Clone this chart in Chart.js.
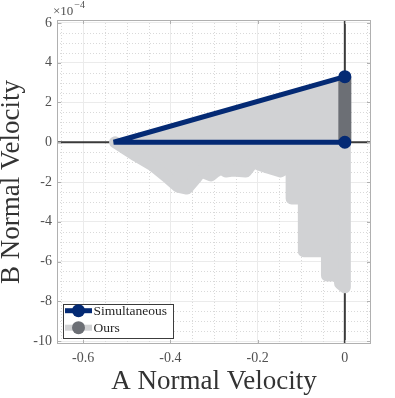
<!DOCTYPE html>
<html>
<head>
<meta charset="utf-8">
<script src="https://cdn.jsdelivr.net/npm/chart.js@4.4.1/dist/chart.umd.min.js"></script>
<style>
  html, body { margin: 0; padding: 0; background: #fff; }
  canvas { display: block; }
</style>
</head>
<body>
<canvas id="chartCanvas" width="395" height="398"></canvas>
<script>
// values on the y axis are in units of 1e-4
const xTicks = [-0.6, -0.4, -0.2, 0];
const yTicks = [-10, -8, -6, -4, -2, 0, 2, 4, 6];

const simX = [0, -0.53, 0];
const simY = [3.3, 0, 0];

const oursUpperX = [-0.53, 0];
const oursUpperY = [0, 3.3];

const oursLowerX = [-0.527, -0.479, -0.44, -0.404, -0.383, -0.362, -0.342, -0.33, -0.307, -0.296,
    -0.284, -0.273, -0.257, -0.227, -0.209, -0.197, -0.177, -0.147, -0.131, -0.122,
    -0.122, -0.112, -0.094, -0.094, -0.069, -0.041, -0.041, -0.011, -0.011, 0, 0];
const oursLowerY = [0, -0.67, -1.17, -1.82, -2.23, -2.33, -1.82, -1.47, -1.67, -1.47,
    -1.32, -1.47, -1.42, -1.47, -0.97, -1.12, -1.27, -1.47, -1.22, -1.22,
    -2.83, -2.83, -2.83, -5.49, -5.49, -5.49, -6.70, -6.70, -7.1, -7.3, 0];

// the dark marker band of "Ours" along x = 0
const oursBandX = [0, 0];
const oursBandY = [0, 3.3];

const NAVY = "#042a74";
const LIGHT = "#d1d2d4";
const DARK = "#6c6f75";
const SERIF = '"Liberation Serif", "DejaVu Serif", serif';

const pts = (xs, ys) => xs.map((x, i) => ({ x: x, y: ys[i] }));

const frame = {
    id: "frame",
    beforeDatasetsDraw(chart) {
        const { ctx, chartArea: a, scales: { x, y } } = chart;
        ctx.save();
        ctx.strokeStyle = "#d9d9d9";
        ctx.lineWidth = 1;
        ctx.setLineDash([1, 2]);
        // minor grid, 0.05 on x and 0.5 on y
        for (let i = Math.ceil(x.min / 0.05); i * 0.05 <= x.max + 1e-9; i++) {
            if (i % 4 === 0) continue;
            const px = Math.round(x.getPixelForValue(i * 0.05)) + 0.5;
            ctx.beginPath(); ctx.moveTo(px, a.top); ctx.lineTo(px, a.bottom); ctx.stroke();
        }
        for (let i = Math.ceil(y.min / 0.5); i * 0.5 <= y.max + 1e-9; i++) {
            if (i % 4 === 0) continue;
            const py = Math.round(y.getPixelForValue(i * 0.5)) + 0.5;
            ctx.beginPath(); ctx.moveTo(a.left, py); ctx.lineTo(a.right, py); ctx.stroke();
        }
        // zero axes
        ctx.setLineDash([]);
        ctx.strokeStyle = "#3a3a3a";
        ctx.lineWidth = 2;
        const x0 = x.getPixelForValue(0), y0 = y.getPixelForValue(0);
        ctx.beginPath(); ctx.moveTo(a.left, y0); ctx.lineTo(a.right, y0); ctx.stroke();
        ctx.beginPath(); ctx.moveTo(x0, a.top); ctx.lineTo(x0, a.bottom); ctx.stroke();
        ctx.restore();
    },
    afterDraw(chart) {
        const { ctx, chartArea: a, scales: { x, y } } = chart;
        ctx.save();
        // box + inner ticks
        ctx.strokeStyle = "#b0b0b0";
        ctx.lineWidth = 1;
        ctx.strokeRect(a.left + 0.5, a.top + 0.5, a.right - a.left - 1, a.bottom - a.top - 1);
        ctx.beginPath();
        x.ticks.forEach(t => {
            const px = Math.round(x.getPixelForValue(t.value)) + 0.5;
            ctx.moveTo(px, a.bottom); ctx.lineTo(px, a.bottom - 4);
            ctx.moveTo(px, a.top); ctx.lineTo(px, a.top + 4);
        });
        y.ticks.forEach(t => {
            const py = Math.round(y.getPixelForValue(t.value)) + 0.5;
            ctx.moveTo(a.left, py); ctx.lineTo(a.left + 4, py);
            ctx.moveTo(a.right, py); ctx.lineTo(a.right - 4, py);
        });
        ctx.stroke();

        // exponent label
        ctx.fillStyle = "#505050";
        ctx.textBaseline = "alphabetic";
        ctx.font = "13px " + SERIF;
        ctx.fillText("\u00d710", 53, 15);
        const w = ctx.measureText("\u00d710").width;
        ctx.font = "10px " + SERIF;
        ctx.fillText("\u22124", 53 + w + 1, 8);

        // legend
        const lx = 63, ly = 304, lw = 110, lh = 34;
        ctx.fillStyle = "#fff";
        ctx.fillRect(lx, ly, lw, lh);
        ctx.strokeStyle = "#3c3c3c";
        ctx.strokeRect(lx + 0.5, ly + 0.5, lw, lh);
        const rows = [
            { label: chart.data.datasets[0].label, line: NAVY, lineW: 5, mark: NAVY, y: 310.7 },
            { label: chart.data.datasets[3].label, line: LIGHT, lineW: 6, mark: DARK, y: 327.7 }
        ];
        rows.forEach(r => {
            ctx.strokeStyle = r.line;
            ctx.lineWidth = r.lineW;
            ctx.beginPath(); ctx.moveTo(65, r.y); ctx.lineTo(92, r.y); ctx.stroke();
            ctx.fillStyle = r.mark;
            ctx.beginPath(); ctx.arc(78.5, r.y, 6.5, 0, Math.PI * 2); ctx.fill();
            ctx.fillStyle = "#262626";
            ctx.font = "13.5px " + SERIF;
            ctx.textBaseline = "middle";
            ctx.fillText(r.label, 93.5, r.y + 0.5);
        });
        ctx.restore();
    }
};

new Chart(chartCanvas, {
    type: "line",
    data: {
        datasets: [
            {
                label: "Simultaneous",
                data: pts(simX, simY),
                borderColor: NAVY,
                borderWidth: 5,
                borderJoinStyle: "bevel",
                pointRadius: [6.5, 0, 6.5],
                pointBackgroundColor: NAVY,
                pointBorderWidth: 0,
                fill: false
            },
            {
                label: "Ours band",
                data: pts(oursBandX, oursBandY),
                borderColor: DARK,
                borderWidth: 13,
                borderCapStyle: "butt",
                pointRadius: 0,
                fill: false
            },
            {
                label: "Ours upper",
                data: pts(oursUpperX, oursUpperY),
                borderColor: LIGHT,
                borderWidth: 1,
                backgroundColor: LIGHT,
                pointRadius: 0,
                fill: "origin"
            },
            {
                label: "Ours",
                data: pts(oursLowerX, oursLowerY),
                borderColor: LIGHT,
                borderWidth: 12,
                borderJoinStyle: "round",
                borderCapStyle: "round",
                backgroundColor: LIGHT,
                pointRadius: 0,
                fill: "origin"
            }
        ]
    },
    options: {
        responsive: false,
        animation: false,
        devicePixelRatio: 1,
        layout: { padding: { left: 0, top: 20, right: 24, bottom: 0 } },
        plugins: {
            legend: { display: false },
            tooltip: { enabled: false }
        },
        scales: {
            x: {
                type: "linear",
                min: -0.66,
                max: 0.06,
                afterBuildTicks: s => { s.ticks = xTicks.map(v => ({ value: v })); },
                afterFit: s => { s.height = 54; },
                grid: { color: "#ebebeb", drawTicks: false },
                border: { display: false },
                ticks: {
                    padding: 6,
                    color: "#505050",
                    font: { family: SERIF, size: 14 },
                    callback: v => String(v)
                },
                title: {
                    display: true,
                    text: "A Normal Velocity",
                    color: "#333",
                    font: { family: SERIF, size: 27, lineHeight: 1 },
                    padding: { top: 0, bottom: 2.5 }
                }
            },
            y: {
                type: "linear",
                min: -10.15,
                max: 6.15,
                afterBuildTicks: s => { s.ticks = yTicks.map(v => ({ value: v })); },
                afterFit: s => { s.width = 57; },
                grid: { color: "#ebebeb", drawTicks: false },
                border: { display: false },
                ticks: {
                    padding: 5,
                    color: "#505050",
                    font: { family: SERIF, size: 14 },
                    callback: v => String(v)
                },
                title: {
                    display: true,
                    text: "B Normal Velocity",
                    color: "#333",
                    font: { family: SERIF, size: 27, lineHeight: 0.9 },
                    padding: { top: 0, bottom: 0 }
                }
            }
        }
    },
    plugins: [frame]
});
</script>
</body>
</html>
